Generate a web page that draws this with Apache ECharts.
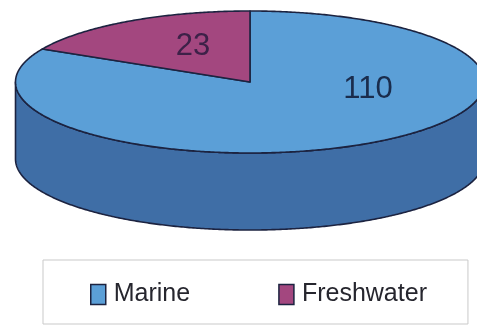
<!DOCTYPE html>
<html>
<head>
<meta charset="utf-8">
<style>html,body{margin:0;padding:0;background:#fff}#c{width:477px;height:325px}</style>
<script src="https://cdn.jsdelivr.net/npm/echarts@6/dist/echarts.min.js"></script>
</head>
<body>
<div id="c"></div>
<script>
const categories = ['Marine', 'Freshwater'];
const values = [110, 23];
const topColors = ['#5b9fd7', '#a3477f'];
const wallColor = '#3f6ea6';
const labelColors = ['#1a2c4c', '#3d2148'];
const outline = '#1c2340';

// Disc geometry: an ellipse for the lid, dropped by `depth` for the rim.
const disc = { cx: 250, cy: 82, rx: 234.5, ry: 71, depth: 77 };
// Label anchors, as offsets from the disc centre in pixels.
const labelOffsets = [[118, 7], [-57, -36]];

const total = values.reduce((a, b) => a + b, 0);
const rimPoint = (deg, drop) => {
  const t = deg * Math.PI / 180;
  return [disc.cx + disc.rx * Math.sin(t), disc.cy - disc.ry * Math.cos(t) + drop];
};
const arc = (from, to, drop) => {
  const pts = [];
  const step = from < to ? 0.5 : -0.5;
  for (let d = from; step > 0 ? d < to : d > to; d += step) pts.push(rimPoint(d, drop));
  pts.push(rimPoint(to, drop));
  return pts;
};

function renderSlice(index) {
  return function (params, api) {
    const before = values.slice(0, index).reduce((a, b) => a + b, 0);
    const start = before / total * 360;
    const end = start + api.value(0) / total * 360;
    const stroke = { stroke: outline, lineWidth: 1.6, lineJoin: 'round' };
    const children = [];
    // The rim only shows along the front half of the disc.
    const wallFrom = Math.max(start, 90);
    const wallTo = Math.min(end, 270);
    if (wallFrom < wallTo) {
      children.push({
        type: 'polygon',
        shape: { points: arc(wallFrom, wallTo, 0).concat(arc(wallTo, wallFrom, disc.depth)) },
        style: Object.assign({ fill: wallColor }, stroke)
      });
    }
    children.push({
      type: 'polygon',
      shape: { points: [[disc.cx, disc.cy]].concat(arc(start, end, 0)) },
      style: Object.assign({ fill: topColors[index] }, stroke)
    });
    children.push({
      type: 'text',
      style: {
        x: disc.cx + labelOffsets[index][0],
        y: disc.cy + labelOffsets[index][1],
        text: String(api.value(0)),
        fill: labelColors[index],
        font: '31px "Liberation Sans", Arial, sans-serif',
        align: 'center',
        verticalAlign: 'middle'
      }
    });
    return { type: 'group', children };
  };
}

const chart = echarts.init(document.getElementById('c'), null, { renderer: 'canvas' });
chart.setOption({
  animation: false,
  backgroundColor: '#ffffff',
  legend: {
    left: 43,
    top: 260,
    selectedMode: false,
    icon: 'rect',
    itemWidth: 15,
    itemHeight: 20,
    itemGap: 88,
    padding: [22, 41, 17, 47],
    borderColor: '#c9c9c9',
    borderWidth: 1,
    data: categories,
    itemStyle: { borderColor: outline, borderWidth: 1.5 },
    textStyle: {
      color: '#26262e',
      fontSize: 25,
      fontFamily: '"Liberation Sans", Arial, sans-serif',
      padding: [0, 0, 0, 3]
    }
  },
  series: categories.map((name, i) => ({
    type: 'custom',
    name,
    coordinateSystem: 'none',
    z: i + 1,
    silent: true,
    itemStyle: { color: topColors[i] },
    data: [[values[i]]],
    renderItem: renderSlice(i)
  }))
});
</script>
</body>
</html>
